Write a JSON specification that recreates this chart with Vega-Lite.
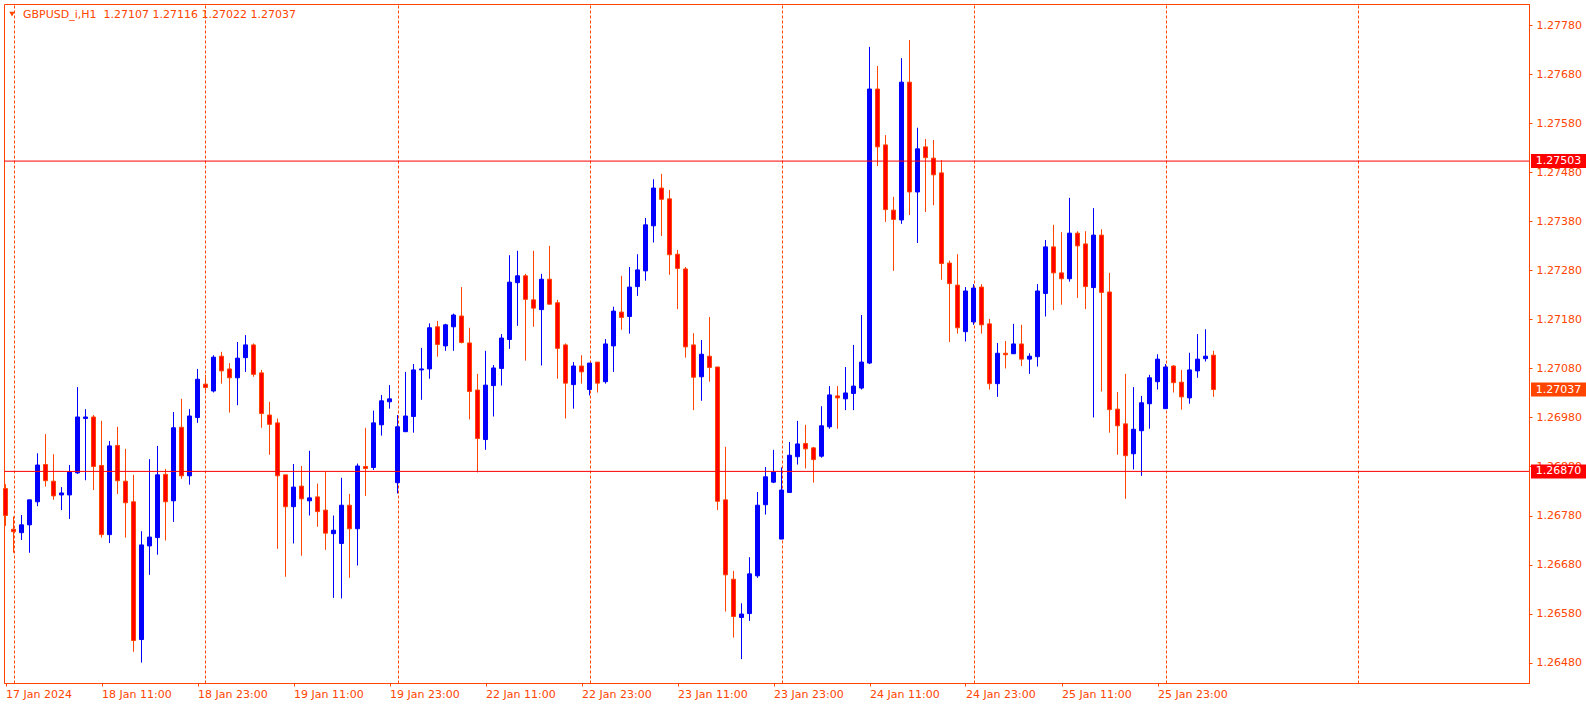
{
"$schema": "https://vega.github.io/schema/vega-lite/v6.json",
"width": 1525,
"height": 679,
"autosize": {"type": "none"},
"padding": {"left": 4, "top": 4, "right": 57, "bottom": 25},
"background": "#FFFFFF",
"config": {"view": {"stroke": "#FF4500", "strokeWidth": 1}, "font": "DejaVu Sans", "scale": {"continuousPadding": 0}},
"datasets": {
"candles": [
{"i":0,"o":1.26835,"h":1.26844,"l":1.26759,"c":1.26780},
{"i":1,"o":1.26752,"h":1.26778,"l":1.26704,"c":1.26747},
{"i":2,"o":1.26745,"h":1.26781,"l":1.26730,"c":1.26761},
{"i":3,"o":1.26761,"h":1.26812,"l":1.26704,"c":1.26812},
{"i":4,"o":1.26808,"h":1.26907,"l":1.26799,"c":1.26883},
{"i":5,"o":1.26884,"h":1.26946,"l":1.26839,"c":1.26851},
{"i":6,"o":1.26850,"h":1.26905,"l":1.26812,"c":1.26820},
{"i":7,"o":1.26822,"h":1.26838,"l":1.26791,"c":1.26826},
{"i":8,"o":1.26822,"h":1.26883,"l":1.26773,"c":1.26869},
{"i":9,"o":1.26867,"h":1.27042,"l":1.26865,"c":1.26981},
{"i":10,"o":1.26978,"h":1.26997,"l":1.26852,"c":1.26981},
{"i":11,"o":1.26981,"h":1.26985,"l":1.26832,"c":1.26880},
{"i":12,"o":1.26882,"h":1.26973,"l":1.26735,"c":1.26741},
{"i":13,"o":1.26741,"h":1.26932,"l":1.26724,"c":1.26922},
{"i":14,"o":1.26923,"h":1.26961,"l":1.26824,"c":1.26851},
{"i":15,"o":1.26850,"h":1.26916,"l":1.26735,"c":1.26806},
{"i":16,"o":1.26808,"h":1.26863,"l":1.26502,"c":1.26525},
{"i":17,"o":1.26527,"h":1.26748,"l":1.26480,"c":1.26720},
{"i":18,"o":1.26718,"h":1.26895,"l":1.26659,"c":1.26736},
{"i":19,"o":1.26735,"h":1.26922,"l":1.26700,"c":1.26863},
{"i":20,"o":1.26864,"h":1.26875,"l":1.26729,"c":1.26808},
{"i":21,"o":1.26810,"h":1.26991,"l":1.26767,"c":1.26959},
{"i":22,"o":1.26960,"h":1.27018,"l":1.26855,"c":1.26861},
{"i":23,"o":1.26861,"h":1.26997,"l":1.26843,"c":1.26983},
{"i":24,"o":1.26980,"h":1.27079,"l":1.26969,"c":1.27058},
{"i":25,"o":1.27048,"h":1.27067,"l":1.27035,"c":1.27041},
{"i":26,"o":1.27034,"h":1.27107,"l":1.27031,"c":1.27103},
{"i":27,"o":1.27105,"h":1.27114,"l":1.27049,"c":1.27075},
{"i":28,"o":1.27079,"h":1.27091,"l":1.26990,"c":1.27061},
{"i":29,"o":1.27061,"h":1.27134,"l":1.27005,"c":1.27101},
{"i":30,"o":1.27102,"h":1.27148,"l":1.27073,"c":1.27128},
{"i":31,"o":1.27128,"h":1.27131,"l":1.27063,"c":1.27068},
{"i":32,"o":1.27071,"h":1.27077,"l":1.26959,"c":1.26988},
{"i":33,"o":1.26985,"h":1.27012,"l":1.26904,"c":1.26966},
{"i":34,"o":1.26969,"h":1.26978,"l":1.26712,"c":1.26861},
{"i":35,"o":1.26863,"h":1.26863,"l":1.26655,"c":1.26798},
{"i":36,"o":1.26798,"h":1.26885,"l":1.26723,"c":1.26838},
{"i":37,"o":1.26840,"h":1.26881,"l":1.26698,"c":1.26814},
{"i":38,"o":1.26810,"h":1.26912,"l":1.26780,"c":1.26816},
{"i":39,"o":1.26818,"h":1.26845,"l":1.26757,"c":1.26788},
{"i":40,"o":1.26791,"h":1.26869,"l":1.26710,"c":1.26744},
{"i":41,"o":1.26743,"h":1.26780,"l":1.26612,"c":1.26750},
{"i":42,"o":1.26723,"h":1.26857,"l":1.26611,"c":1.26801},
{"i":43,"o":1.26801,"h":1.26824,"l":1.26653,"c":1.26753},
{"i":44,"o":1.26753,"h":1.26886,"l":1.26678,"c":1.26881},
{"i":45,"o":1.26880,"h":1.26959,"l":1.26820,"c":1.26876},
{"i":46,"o":1.26878,"h":1.26994,"l":1.26873,"c":1.26969},
{"i":47,"o":1.26965,"h":1.27026,"l":1.26943,"c":1.27014},
{"i":48,"o":1.27012,"h":1.27046,"l":1.26998,"c":1.27018},
{"i":49,"o":1.26847,"h":1.26985,"l":1.26825,"c":1.26961},
{"i":50,"o":1.26951,"h":1.27073,"l":1.26951,"c":1.26983},
{"i":51,"o":1.26982,"h":1.27089,"l":1.26949,"c":1.27077},
{"i":52,"o":1.27077,"h":1.27122,"l":1.27016,"c":1.27079},
{"i":53,"o":1.27079,"h":1.27172,"l":1.27059,"c":1.27163},
{"i":54,"o":1.27165,"h":1.27177,"l":1.27104,"c":1.27129},
{"i":55,"o":1.27126,"h":1.27171,"l":1.27116,"c":1.27169},
{"i":56,"o":1.27165,"h":1.27192,"l":1.27116,"c":1.27189},
{"i":57,"o":1.27187,"h":1.27246,"l":1.27131,"c":1.27133},
{"i":58,"o":1.27132,"h":1.27163,"l":1.26976,"c":1.27033},
{"i":59,"o":1.27036,"h":1.27069,"l":1.26868,"c":1.26937},
{"i":60,"o":1.26935,"h":1.27116,"l":1.26914,"c":1.27046},
{"i":61,"o":1.27045,"h":1.27087,"l":1.26982,"c":1.27081},
{"i":62,"o":1.27080,"h":1.27150,"l":1.27045,"c":1.27142},
{"i":63,"o":1.27139,"h":1.27311,"l":1.27120,"c":1.27256},
{"i":64,"o":1.27255,"h":1.27320,"l":1.27167,"c":1.27269},
{"i":65,"o":1.27269,"h":1.27273,"l":1.27096,"c":1.27221},
{"i":66,"o":1.27220,"h":1.27320,"l":1.27165,"c":1.27203},
{"i":67,"o":1.27200,"h":1.27273,"l":1.27086,"c":1.27262},
{"i":68,"o":1.27262,"h":1.27330,"l":1.27211,"c":1.27211},
{"i":69,"o":1.27214,"h":1.27220,"l":1.27059,"c":1.27121},
{"i":70,"o":1.27128,"h":1.27131,"l":1.26978,"c":1.27050},
{"i":71,"o":1.27047,"h":1.27093,"l":1.26998,"c":1.27085},
{"i":72,"o":1.27085,"h":1.27107,"l":1.27049,"c":1.27073},
{"i":73,"o":1.27037,"h":1.27091,"l":1.27025,"c":1.27091},
{"i":74,"o":1.27093,"h":1.27093,"l":1.27031,"c":1.27050},
{"i":75,"o":1.27053,"h":1.27140,"l":1.27049,"c":1.27130},
{"i":76,"o":1.27126,"h":1.27206,"l":1.27073,"c":1.27197},
{"i":77,"o":1.27195,"h":1.27269,"l":1.27159,"c":1.27184},
{"i":78,"o":1.27186,"h":1.27287,"l":1.27151,"c":1.27246},
{"i":79,"o":1.27247,"h":1.27313,"l":1.27228,"c":1.27281},
{"i":80,"o":1.27279,"h":1.27387,"l":1.27259,"c":1.27373},
{"i":81,"o":1.27371,"h":1.27466,"l":1.27337,"c":1.27448},
{"i":82,"o":1.27448,"h":1.27477,"l":1.27350,"c":1.27425},
{"i":83,"o":1.27426,"h":1.27444,"l":1.27271,"c":1.27312},
{"i":84,"o":1.27313,"h":1.27322,"l":1.27201,"c":1.27284},
{"i":85,"o":1.27283,"h":1.27287,"l":1.27102,"c":1.27124},
{"i":86,"o":1.27128,"h":1.27152,"l":1.26995,"c":1.27062},
{"i":87,"o":1.27063,"h":1.27138,"l":1.27014,"c":1.27109},
{"i":88,"o":1.27105,"h":1.27185,"l":1.27053,"c":1.27082},
{"i":89,"o":1.27083,"h":1.27083,"l":1.26791,"c":1.26809},
{"i":90,"o":1.26812,"h":1.26920,"l":1.26584,"c":1.26659},
{"i":91,"o":1.26650,"h":1.26667,"l":1.26531,"c":1.26574},
{"i":92,"o":1.26572,"h":1.26601,"l":1.26487,"c":1.26579},
{"i":93,"o":1.26580,"h":1.26695,"l":1.26565,"c":1.26661},
{"i":94,"o":1.26657,"h":1.26828,"l":1.26653,"c":1.26801},
{"i":95,"o":1.26802,"h":1.26879,"l":1.26782,"c":1.26859},
{"i":96,"o":1.26848,"h":1.26914,"l":1.26846,"c":1.26869},
{"i":97,"o":1.26732,"h":1.26878,"l":1.26732,"c":1.26832},
{"i":98,"o":1.26827,"h":1.26930,"l":1.26827,"c":1.26903},
{"i":99,"o":1.26900,"h":1.26973,"l":1.26884,"c":1.26926},
{"i":100,"o":1.26927,"h":1.26965,"l":1.26876,"c":1.26916},
{"i":101,"o":1.26918,"h":1.26920,"l":1.26847,"c":1.26894},
{"i":102,"o":1.26901,"h":1.27003,"l":1.26898,"c":1.26963},
{"i":103,"o":1.26961,"h":1.27044,"l":1.26957,"c":1.27026},
{"i":104,"o":1.27024,"h":1.27044,"l":1.26957,"c":1.27020},
{"i":105,"o":1.27018,"h":1.27083,"l":1.26995,"c":1.27030},
{"i":106,"o":1.27029,"h":1.27128,"l":1.26995,"c":1.27044},
{"i":107,"o":1.27040,"h":1.27189,"l":1.27037,"c":1.27093},
{"i":108,"o":1.27091,"h":1.27736,"l":1.27089,"c":1.27650},
{"i":109,"o":1.27650,"h":1.27697,"l":1.27493,"c":1.27532},
{"i":110,"o":1.27536,"h":1.27556,"l":1.27379,"c":1.27404},
{"i":111,"o":1.27403,"h":1.27430,"l":1.27279,"c":1.27384},
{"i":112,"o":1.27383,"h":1.27713,"l":1.27375,"c":1.27664},
{"i":113,"o":1.27664,"h":1.27750,"l":1.27393,"c":1.27440},
{"i":114,"o":1.27440,"h":1.27571,"l":1.27336,"c":1.27528},
{"i":115,"o":1.27532,"h":1.27548,"l":1.27399,"c":1.27510},
{"i":116,"o":1.27509,"h":1.27546,"l":1.27413,"c":1.27475},
{"i":117,"o":1.27479,"h":1.27505,"l":1.27261,"c":1.27294},
{"i":118,"o":1.27295,"h":1.27300,"l":1.27134,"c":1.27253},
{"i":119,"o":1.27250,"h":1.27313,"l":1.27151,"c":1.27163},
{"i":120,"o":1.27155,"h":1.27246,"l":1.27135,"c":1.27238},
{"i":121,"o":1.27175,"h":1.27252,"l":1.27169,"c":1.27244},
{"i":122,"o":1.27246,"h":1.27252,"l":1.27151,"c":1.27169},
{"i":123,"o":1.27171,"h":1.27181,"l":1.27037,"c":1.27049},
{"i":124,"o":1.27049,"h":1.27132,"l":1.27022,"c":1.27111},
{"i":125,"o":1.27111,"h":1.27136,"l":1.27080,"c":1.27108},
{"i":126,"o":1.27110,"h":1.27171,"l":1.27110,"c":1.27130},
{"i":127,"o":1.27130,"h":1.27169,"l":1.27085,"c":1.27099},
{"i":128,"o":1.27099,"h":1.27111,"l":1.27069,"c":1.27105},
{"i":129,"o":1.27104,"h":1.27252,"l":1.27084,"c":1.27238},
{"i":130,"o":1.27233,"h":1.27342,"l":1.27186,"c":1.27328},
{"i":131,"o":1.27328,"h":1.27373,"l":1.27199,"c":1.27275},
{"i":132,"o":1.27275,"h":1.27358,"l":1.27210,"c":1.27263},
{"i":133,"o":1.27263,"h":1.27428,"l":1.27257,"c":1.27356},
{"i":134,"o":1.27356,"h":1.27360,"l":1.27224,"c":1.27330},
{"i":135,"o":1.27334,"h":1.27360,"l":1.27201,"c":1.27247},
{"i":136,"o":1.27245,"h":1.27407,"l":1.26980,"c":1.27352},
{"i":137,"o":1.27352,"h":1.27364,"l":1.27033,"c":1.27235},
{"i":138,"o":1.27236,"h":1.27275,"l":1.26949,"c":1.26996},
{"i":139,"o":1.26997,"h":1.27032,"l":1.26904,"c":1.26963},
{"i":140,"o":1.26967,"h":1.27069,"l":1.26814,"c":1.26902},
{"i":141,"o":1.26906,"h":1.27042,"l":1.26874,"c":1.26956},
{"i":142,"o":1.26953,"h":1.27024,"l":1.26861,"c":1.27010},
{"i":143,"o":1.27008,"h":1.27067,"l":1.26957,"c":1.27061},
{"i":144,"o":1.27053,"h":1.27109,"l":1.27037,"c":1.27099},
{"i":145,"o":1.26998,"h":1.27089,"l":1.26998,"c":1.27083},
{"i":146,"o":1.27085,"h":1.27087,"l":1.27031,"c":1.27051},
{"i":147,"o":1.27052,"h":1.27077,"l":1.26996,"c":1.27022},
{"i":148,"o":1.27020,"h":1.27112,"l":1.27008,"c":1.27077},
{"i":149,"o":1.27075,"h":1.27150,"l":1.27061,"c":1.27099},
{"i":150,"o":1.27100,"h":1.27160,"l":1.27094,"c":1.27105},
{"i":151,"o":1.27107,"h":1.27116,"l":1.27022,"c":1.27037}
],
"levels": [
{"price":1.27503,"kind":"line"},
{"price":1.26870,"kind":"line"},
{"price":1.27037,"kind":"bid"}
]
},
"resolve": {"axis": {"x": "independent"}},
"layer": [
{
"data": {"name": "candles"},
"mark": {"type": "rule", "strokeWidth": 1},
"encoding": {
"x": {"field": "i", "type": "quantitative",
"scale": {"domain": [-0.1875, 190.4375], "nice": false, "zero": false, "padding": 0},
"axis": {"orient": "bottom", "title": null, "grid": false,
"values": [0,12,24,36,48,60,72,84,96,108,120,132,144],
"labelExpr": "['17 Jan 2024','18 Jan 11:00','18 Jan 23:00','19 Jan 11:00','19 Jan 23:00','22 Jan 11:00','22 Jan 23:00','23 Jan 11:00','23 Jan 23:00','24 Jan 11:00','24 Jan 23:00','25 Jan 11:00','25 Jan 23:00'][round(datum.value/12)]",
"labelAlign": "left", "labelBaseline": "top", "labelPadding": 2, "labelFontSize": 11, "labelFont": "DejaVu Sans",
"labelColor": "#FF4500", "tickColor": "#FF4500", "tickSize": 3, "domainColor": "#FF4500",
"labelOverlap": false, "labelBound": false, "labelFlush": false}},
"y": {"field": "l", "type": "quantitative",
"scale": {"domain": [1.2643835, 1.2782345], "nice": false, "zero": false, "padding": 0},
"axis": {"orient": "right", "title": null, "grid": false,
"values": [1.2648,1.2658,1.2668,1.2678,1.2688,1.2698,1.2708,1.2718,1.2728,1.2738,1.2748,1.2758,1.2768,1.2778],
"format": ".5f", "labelFontSize": 11, "labelFont": "DejaVu Sans", "labelPadding": 4,
"labelColor": "#FF4500", "tickColor": "#FF4500", "tickSize": 3, "domainColor": "#FF4500",
"labelOverlap": false, "labelBound": false, "labelFlush": false}},
"y2": {"field": "h"},
"color": {"condition": {"test": "datum.c >= datum.o", "value": "#0000FF"}, "value": "#FF4500"}
}
},
{
"data": {"name": "candles"},
"mark": {"type": "bar", "width": 4, "strokeWidth": 1},
"encoding": {
"x": {"field": "i", "type": "quantitative",
"scale": {"domain": [-0.1875, 190.4375], "nice": false, "zero": false, "padding": 0},
"axis": {"orient": "top", "title": null, "grid": true, "labels": false, "ticks": false, "domain": false,
"values": [1,25,49,73,97,121,145,169], "gridColor": "#FF4500", "gridDash": [3,2], "gridWidth": 1, "gridOpacity": 1}},
"y": {"field": "o", "type": "quantitative", "scale": {"domain": [1.2643835, 1.2782345], "nice": false, "zero": false, "padding": 0}},
"y2": {"field": "c"},
"fill": {"condition": {"test": "datum.c >= datum.o", "value": "#0000FF"}, "value": "#FF0000"},
"stroke": {"condition": {"test": "datum.c >= datum.o", "value": "#0000FF"}, "value": "#FF4500"}
}
},
{
"data": {"name": "levels"},
"transform": [{"filter": "datum.kind == 'line'"}],
"mark": {"type": "rule", "strokeWidth": 1, "color": "#FF0000"},
"encoding": {
"y": {"field": "price", "type": "quantitative", "scale": {"domain": [1.2643835, 1.2782345], "nice": false, "zero": false, "padding": 0}}
}
},
{
"data": {"name": "levels"},
"mark": {"type": "tick", "orient": "horizontal", "size": 55, "thickness": 14, "opacity": 1, "filled": true},
"encoding": {
"x": {"datum": 194.125, "type": "quantitative", "axis": null, "scale": {"domain": [-0.1875, 190.4375], "nice": false, "zero": false, "padding": 0}},
"y": {"field": "price", "type": "quantitative", "scale": {"domain": [1.2643835, 1.2782345], "nice": false, "zero": false, "padding": 0}},
"color": {"condition": {"test": "datum.kind == 'bid'", "value": "#FF4500"}, "value": "#FF0000"}
}
},
{
"data": {"name": "levels"},
"mark": {"type": "text", "color": "#FFFFFF", "fontSize": 11, "font": "DejaVu Sans", "align": "center", "baseline": "middle"},
"encoding": {
"x": {"datum": 194.125, "type": "quantitative", "axis": null, "scale": {"domain": [-0.1875, 190.4375], "nice": false, "zero": false, "padding": 0}},
"y": {"field": "price", "type": "quantitative", "scale": {"domain": [1.2643835, 1.2782345], "nice": false, "zero": false, "padding": 0}},
"text": {"field": "price", "type": "quantitative", "format": ".5f"}
}
},
{
"data": {"values": [{"label": "GBPUSD_i,H1\u00a0\u00a01.27107 1.27116 1.27022 1.27037"}]},
"mark": {"type": "text", "color": "#FF4500", "fontSize": 11, "font": "DejaVu Sans", "align": "left", "baseline": "middle"},
"encoding": {
"x": {"datum": 2.1875, "type": "quantitative", "axis": null, "scale": {"domain": [-0.1875, 190.4375], "nice": false, "zero": false, "padding": 0}},
"y": {"datum": 1.27801, "type": "quantitative", "scale": {"domain": [1.2643835, 1.2782345], "nice": false, "zero": false, "padding": 0}},
"text": {"field": "label"}
}
},
{
"data": {"values": [{"symbol": "menu"}]},
"mark": {"type": "point", "shape": "triangle-down", "size": 30, "filled": true, "opacity": 1, "color": "#FF4500"},
"encoding": {
"x": {"datum": 0.8125, "type": "quantitative", "axis": null, "scale": {"domain": [-0.1875, 190.4375], "nice": false, "zero": false, "padding": 0}},
"y": {"datum": 1.27803, "type": "quantitative", "scale": {"domain": [1.2643835, 1.2782345], "nice": false, "zero": false, "padding": 0}}
}
}
]
}
